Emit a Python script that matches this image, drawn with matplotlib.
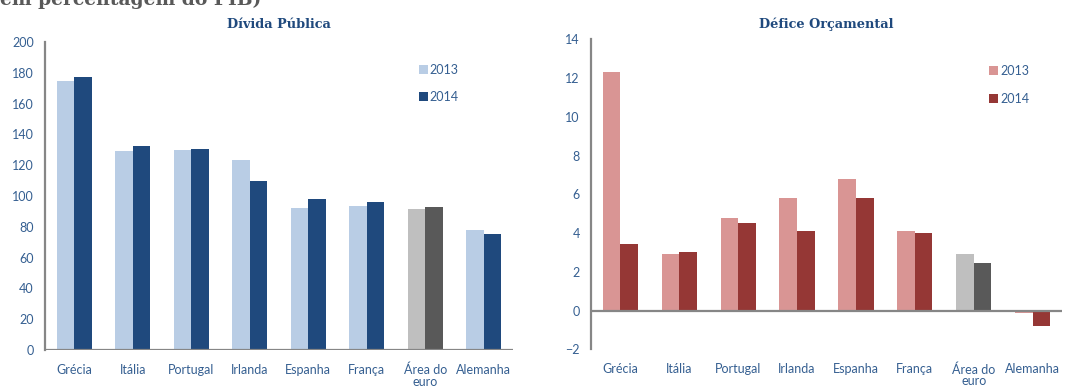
import matplotlib.pyplot as plt
import numpy as np

# data
paises = ["Grécia", "Itália", "Portugal", "Irlanda", "Espanha", "França",
          "Área do\neuro", "Alemanha"]
divida_2013 = [175, 129, 130, 123.5, 92.5, 93.3, 91.6, 78]
divida_2014 = [177, 132.5, 130.5, 110, 98, 96, 93, 75.3]
defice_2013 = [12.3, 2.9, 4.8, 5.8, 6.8, 4.1, 2.9, -0.15]
defice_2014 = [3.45, 3.0, 4.5, 4.1, 5.8, 4.0, 2.45, -0.8]

LABEL_COL = "#355F91"
TITLE_COL = "#1F497D"
SPINE_COL = "#868686"
EURO = 6  # index of the euro area, drawn in grey


def bar_colors(c13, c14):
    a = [c13] * len(paises)
    b = [c14] * len(paises)
    a[EURO] = "#BFBFBF"
    b[EURO] = "#595959"
    return a, b


def draw_panel(ax, v13, v14, c13, c14, title, ylim, yticks, title_pad, leg_anchor):
    x = np.arange(len(paises))
    w = 0.3
    col13, col14 = bar_colors(c13, c14)
    ax.bar(x - w / 2, v13, w, color=col13, label="2013", zorder=2)
    ax.bar(x + w / 2, v14, w, color=col14, label="2014", zorder=2)

    ax.set_xlim(-0.5, len(paises) - 0.5)
    ax.set_ylim(*ylim)
    ax.set_yticks(yticks)
    ax.set_xticks(x)
    ax.set_xticklabels(paises, linespacing=0.95)
    ax.tick_params(length=0, colors=LABEL_COL, labelsize=9)
    ax.tick_params(axis="y", pad=8)
    ax.tick_params(axis="x", pad=10)

    for s in ["top", "right", "bottom"]:
        ax.spines[s].set_visible(False)
    ax.spines["left"].set_color(SPINE_COL)
    ax.spines["left"].set_linewidth(1.6)
    # horizontal axis line at zero
    ax.axhline(0, color=SPINE_COL, lw=1.6, zorder=3)

    ax.set_title(title, fontsize=9.3, fontweight="bold", color=TITLE_COL,
                 family="DejaVu Serif", pad=title_pad)

    leg = ax.legend(loc="upper left", bbox_to_anchor=leg_anchor, frameon=False,
                    fontsize=9, handlelength=0.75, handleheight=0.75,
                    handletextpad=0.15, labelspacing=1.25, borderpad=0)
    for t in leg.get_texts():
        t.set_color(LABEL_COL)


plt.rcParams["font.family"] = ["Lato", "DejaVu Sans"]

fig = plt.figure(figsize=(10.66, 3.9), dpi=100)
ax1 = fig.add_axes([0.0422, 0.1026, 0.4390, 0.7897])
ax2 = fig.add_axes([0.5544, 0.1044, 0.4418, 0.7946])

draw_panel(ax1, divida_2013, divida_2014, "#B9CDE5", "#1F497D",
           "Dívida Pública", (0, 200), range(0, 201, 20), 10, (0.785, 0.95))
draw_panel(ax2, defice_2013, defice_2014, "#D99594", "#953735",
           "Défice Orçamental", (-2, 14), range(-2, 15, 2), 8, (0.832, 0.937))

# header line cut off at the top of the original image
fig.text(0.0, 1 - 5 / 390, "em percentagem do PIB)", fontsize=13.5,
         fontweight="bold", color="#595959", family="DejaVu Serif",
         va="baseline", ha="left")

fig.savefig("out.png", dpi=100)
